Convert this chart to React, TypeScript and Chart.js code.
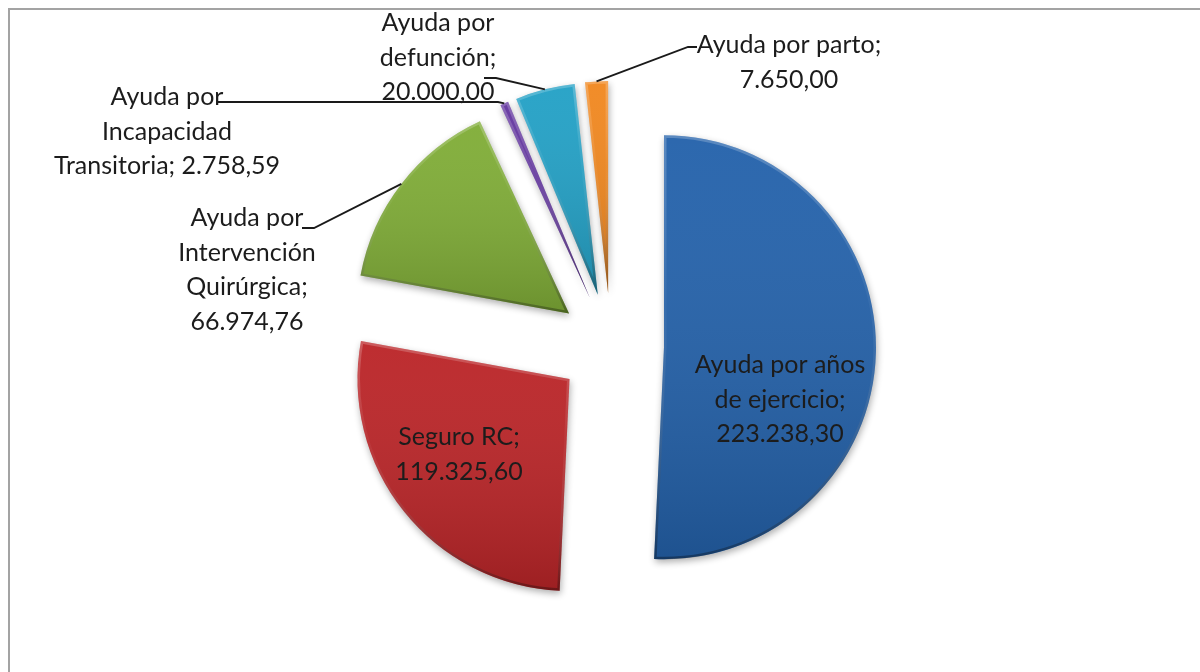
import React, { useEffect, useRef } from "react";
import { Chart, registerables } from "chart.js";

Chart.register(...registerables);

// ---- data ----
const categories = [
  "Ayuda por años de ejercicio",
  "Seguro RC",
  "Ayuda por Intervención Quirúrgica",
  "Ayuda por Incapacidad Transitoria",
  "Ayuda por defunción",
  "Ayuda por parto",
];
const amounts = [223238.3, 119325.6, 66974.76, 2758.59, 20000.0, 7650.0];
const sliceColors = ["#2462ab", "#bb2528", "#80ad37", "#6437a0", "#23a1c6", "#f18820"];

// ---- layout / style ----
const EXPLODE = 53;
const RADIUS = 212;
const FONT_FAMILY = "Lato, 'Open Sans', sans-serif";
const FONT_SIZE = 25;
const LINE_H = 34.5;
const TEXT_COLOR = "#1c1c1c";

type LabelPos = { x: number; y: number; breaks: number[]; leader?: number[][] };
const labelLayout: LabelPos[] = [
  { x: 780, y: 365, breaks: [3, 5] },
  { x: 459, y: 437, breaks: [2] },
  { x: 247, y: 218, breaks: [2, 3, 4], leader: [[302, 228], [314, 228]] },
  { x: 167, y: 97, breaks: [2, 3], leader: [[218, 102], [498, 102]] },
  { x: 438, y: 23, breaks: [2, 3], leader: [[484, 78], [496, 78]] },
  { x: 789, y: 45, breaks: [3], leader: [[697, 47], [688, 47]] },
];

function fmtEs(v: number): string {
  const [i, d] = v.toFixed(2).split(".");
  return i.replace(/\B(?=(\d{3})+(?!\d))/g, ".") + "," + d;
}

function splitLines(text: string, breaks: number[]): string[] {
  const words = text.split(" ");
  const lines: string[] = [];
  let start = 0;
  for (const b of breaks) {
    lines.push(words.slice(start, b).join(" "));
    start = b;
  }
  lines.push(words.slice(start).join(" "));
  return lines;
}

const borderPlugin = {
  id: "frameBorder",
  beforeDraw(chart: any) {
    const ctx = chart.ctx;
    ctx.save();
    ctx.strokeStyle = "#a3a3a3";
    ctx.lineWidth = 2;
    ctx.strokeRect(9, 9, 1400, 900);
    ctx.restore();
  },
};

const explodedPiePlugin = {
  id: "explodedPie",
  beforeDatasetDraw(chart: any, args: any) {
    const ctx = chart.ctx as CanvasRenderingContext2D;
    const arcs = args.meta.data;
    arcs.forEach((arc: any) => {
      const p = arc.getProps(["x", "y", "startAngle", "endAngle", "outerRadius"], true);
      const half = (p.startAngle + p.endAngle) / 2;
      const dx = Math.cos(half) * EXPLODE;
      const dy = Math.sin(half) * EXPLODE;

      // base fill with shadow
      ctx.save();
      ctx.translate(dx, dy);
      ctx.shadowColor = "rgba(0,0,0,0.32)";
      ctx.shadowBlur = 7;
      ctx.shadowOffsetX = 1;
      ctx.shadowOffsetY = 3;
      arc.draw(ctx);
      ctx.restore();

      // shading overlay + bevel
      let ymin = p.y, ymax = p.y;
      const steps = 40;
      for (let k = 0; k <= steps; k++) {
        const a = p.startAngle + ((p.endAngle - p.startAngle) * k) / steps;
        const yy = p.y + Math.sin(a) * p.outerRadius;
        ymin = Math.min(ymin, yy);
        ymax = Math.max(ymax, yy);
      }
      ctx.save();
      ctx.translate(dx, dy);
      ctx.beginPath();
      ctx.moveTo(p.x, p.y);
      ctx.arc(p.x, p.y, p.outerRadius, p.startAngle, p.endAngle);
      ctx.closePath();
      const g = ctx.createLinearGradient(0, ymin, 0, ymax);
      g.addColorStop(0, "rgba(255,255,255,0.04)");
      g.addColorStop(1, "rgba(0,0,0,0.16)");
      ctx.fillStyle = g;
      ctx.fill();
      ctx.clip();
      const b = ctx.createLinearGradient(0, ymin, 0, ymax);
      b.addColorStop(0, "rgba(255,255,255,0.22)");
      b.addColorStop(0.4, "rgba(255,255,255,0.04)");
      b.addColorStop(1, "rgba(0,0,0,0.32)");
      ctx.lineWidth = 5;
      ctx.lineJoin = "round";
      ctx.strokeStyle = b;
      ctx.stroke();
      ctx.restore();
    });
    return false;
  },
};

const labelsPlugin = {
  id: "pieLabels",
  afterDatasetsDraw(chart: any) {
    const ctx = chart.ctx as CanvasRenderingContext2D;
    const meta = chart.getDatasetMeta(0);
    const values = chart.data.datasets[0].data as number[];
    const labels = chart.data.labels as string[];
    ctx.save();
    meta.data.forEach((arc: any, i: number) => {
      const lay = labelLayout[i];
      const p = arc.getProps(["x", "y", "startAngle", "endAngle", "outerRadius"], true);
      const half = (p.startAngle + p.endAngle) / 2;
      if (lay.leader) {
        const tx = p.x + Math.cos(half) * (EXPLODE + p.outerRadius);
        const ty = p.y + Math.sin(half) * (EXPLODE + p.outerRadius);
        ctx.beginPath();
        ctx.moveTo(lay.leader[0][0], lay.leader[0][1]);
        ctx.lineTo(lay.leader[1][0], lay.leader[1][1]);
        ctx.lineTo(tx, ty);
        ctx.strokeStyle = "#1a1a1a";
        ctx.lineWidth = 1.8;
        ctx.stroke();
      }
      const text = `${labels[i]}; ${fmtEs(values[i])}`;
      const lines = splitLines(text, lay.breaks);
      ctx.font = `${FONT_SIZE}px ${FONT_FAMILY}`;
      ctx.fillStyle = TEXT_COLOR;
      ctx.textAlign = "center";
      ctx.textBaseline = "middle";
      lines.forEach((ln, k) => {
        ctx.fillText(ln, lay.x, lay.y + k * LINE_H);
      });
    });
    ctx.restore();
  },
};

export default function App() {
  const canvasRef = useRef<HTMLCanvasElement | null>(null);

  useEffect(() => {
    if (!canvasRef.current) return;
    const chart = new Chart(canvasRef.current, {
      type: "pie",
      data: {
        labels: categories,
        datasets: [
          {
            data: amounts,
            backgroundColor: sliceColors,
            borderWidth: 0,
            radius: RADIUS,
          } as any,
        ],
      },
      options: {
        responsive: false,
        animation: false,
        radius: RADIUS,
        layout: { padding: { left: 22, top: 20, right: 0, bottom: 0 } },
        plugins: {
          legend: { display: false },
          tooltip: { enabled: false },
        },
        events: [],
      } as any,
      plugins: [borderPlugin, explodedPiePlugin, labelsPlugin],
    });
    return () => chart.destroy();
  }, []);

  return (
    <div style={{ position: "fixed", left: 0, top: 0, width: 1200, height: 672, background: "#fff" }}>
      <canvas ref={canvasRef} width={1200} height={672} style={{ width: 1200, height: 672, display: "block" }} />
    </div>
  );
}
